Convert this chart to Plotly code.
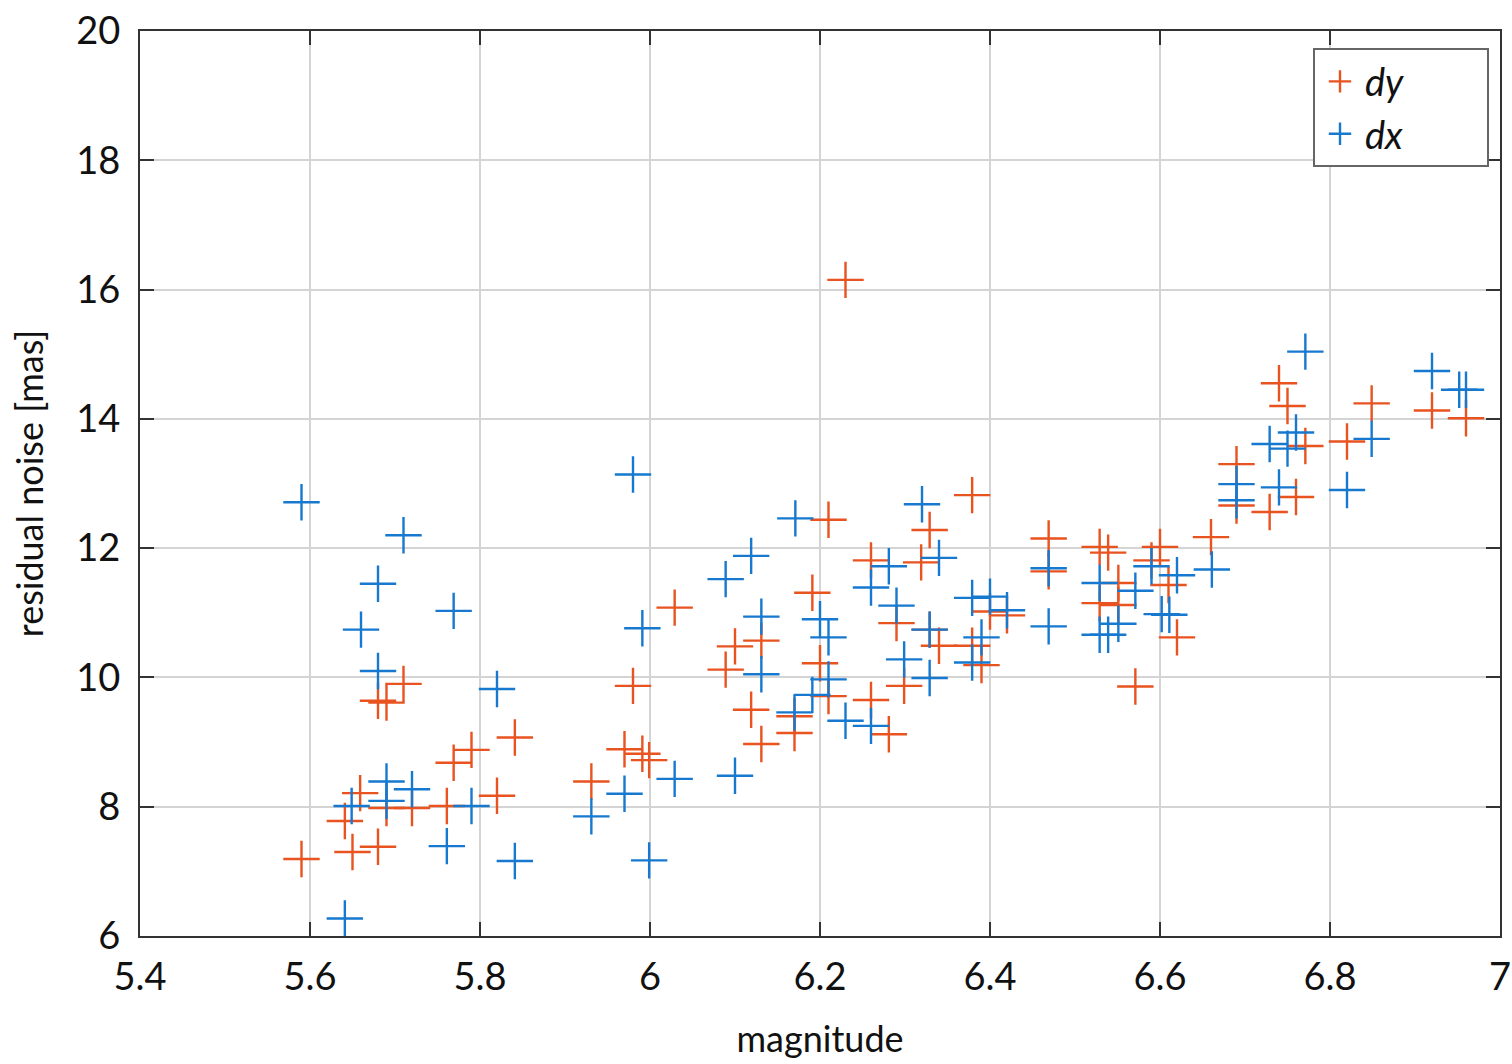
import plotly.graph_objects as go

# dx (blue) series
mag_dx = [5.590, 5.710, 5.680, 5.660, 5.680, 5.769, 5.820, 5.690, 5.720, 5.649, 5.690, 5.790, 5.761, 5.841, 5.641,
          5.980, 6.171, 6.119, 6.089, 5.991, 6.131, 6.200, 6.210, 6.131, 6.210, 6.191, 6.170, 6.230, 6.029, 6.100, 5.970, 5.931, 5.999,
          6.320, 6.340, 6.281, 6.260, 6.290, 6.379, 6.400, 6.420, 6.329, 6.390, 6.299, 6.329, 6.379, 6.469, 6.529, 6.571, 6.469, 6.529, 6.539, 6.551, 6.260,
          6.771, 6.920, 6.952, 6.960, 6.760, 6.729, 6.750, 6.849, 6.690, 6.740, 6.690, 6.820, 6.661, 6.620, 6.602, 6.611, 6.590]
dx_vals = [12.71, 12.20, 11.45, 10.74, 10.10, 11.03, 9.82, 8.39, 8.27, 8.01, 8.09, 8.01, 7.39, 7.16, 6.27,
           13.14, 12.46, 11.88, 11.52, 10.76, 10.94, 10.90, 10.62, 10.05, 9.97, 9.73, 9.46, 9.33, 8.43, 8.48, 8.20, 7.85, 7.17,
           12.68, 11.85, 11.72, 11.39, 11.11, 11.23, 11.25, 11.04, 10.74, 10.62, 10.28, 9.99, 10.23, 10.79, 11.46, 11.34, 11.69, 10.66, 10.66, 10.83, 9.25,
           15.04, 14.74, 14.45, 14.45, 13.79, 13.61, 13.54, 13.69, 12.99, 12.94, 12.74, 12.90, 11.67, 11.58, 10.98, 10.97, 11.72]

# dy (orange) series
mag_dy = [5.710, 5.680, 5.690, 5.841, 5.790, 5.769, 5.659, 5.820, 5.690, 5.720, 5.761, 5.641, 5.650, 5.680, 5.590,
          6.210, 6.029, 6.191, 6.100, 6.131, 6.089, 6.200, 5.980, 6.210, 6.119, 6.170, 6.170, 6.131, 5.970, 5.991, 5.999, 5.931,
          6.230,
          6.379, 6.329, 6.469, 6.529, 6.539, 6.260, 6.319, 6.469, 6.529, 6.551, 6.551, 6.400, 6.420, 6.290, 6.329, 6.340, 6.379, 6.390, 6.299, 6.260, 6.281, 6.571,
          6.740, 6.750, 6.849, 6.920, 6.960, 6.771, 6.820, 6.690, 6.690, 6.760, 6.729, 6.660, 6.600, 6.590, 6.610, 6.620, 6.955]
dy_vals = [9.90, 9.64, 9.61, 9.07, 8.88, 8.68, 8.21, 8.17, 7.98, 7.98, 8.01, 7.78, 7.30, 7.38, 7.19,
           12.44, 11.08, 11.31, 10.48, 10.57, 10.12, 10.22, 9.87, 9.71, 9.50, 9.40, 9.14, 8.97, 8.89, 8.82, 8.72, 8.39,
           16.15,
           12.82, 12.28, 12.15, 12.02, 11.93, 11.81, 11.78, 11.64, 11.15, 11.12, 11.46, 11.02, 10.96, 10.84, 10.74, 10.49, 10.49, 10.19, 9.87, 9.65, 9.12, 9.86,
           14.55, 14.20, 14.24, 14.13, 14.01, 13.58, 13.65, 13.30, 12.66, 12.79, 12.56, 12.17, 12.02, 11.81, 11.43, 10.62, 18.70]

x_ticks = [5.4, 5.6, 5.8, 6.0, 6.2, 6.4, 6.6, 6.8, 7.0]
x_tick_labels = ["5.4", "5.6", "5.8", "6", "6.2", "6.4", "6.6", "6.8", "7"]
y_ticks = [6, 8, 10, 12, 14, 16, 18, 20]

ORANGE = "#E8531F"
BLUE = "#1679CF"
FONT = "Lato"
PAD = "\u00a0" * 8

fig = go.Figure()
fig.add_trace(go.Scatter(
    x=mag_dy, y=dy_vals, mode="markers", name="<i>dy</i>" + PAD,
    marker=dict(symbol="cross-thin-open", size=26, color=ORANGE,
                line=dict(color=ORANGE, width=2.4)),
))
fig.add_trace(go.Scatter(
    x=mag_dx, y=dx_vals, mode="markers", name="<i>dx</i>" + PAD,
    marker=dict(symbol="cross-thin-open", size=26, color=BLUE,
                line=dict(color=BLUE, width=2.4)),
))

axis_common = dict(
    showline=True, linecolor="#333333", linewidth=2, mirror="ticks",
    ticks="inside", ticklen=14, tickwidth=2, tickcolor="#333333",
    showgrid=True, gridcolor="#d4d4d4", gridwidth=1.5,
    zeroline=False, automargin=False,
    tickfont=dict(family=FONT, size=38, color="#111111"),
)

fig.update_layout(
    width=1512, height=1064,
    margin=dict(l=140, r=12, t=31, b=128),
    paper_bgcolor="white", plot_bgcolor="white",
    font=dict(family=FONT, color="#111111"),
    xaxis=dict(range=[5.4, 7.0], tickvals=x_ticks, ticktext=x_tick_labels,
               ticklabelstandoff=6,
               title=dict(text="magnitude", font=dict(family=FONT, size=36), standoff=30),
               **axis_common),
    yaxis=dict(range=[6, 20], tickvals=y_ticks, ticklabelstandoff=10,
               title=dict(text="residual noise [mas]", font=dict(family=FONT, size=36), standoff=22),
               **axis_common),
    legend=dict(x=0.8625, y=0.981, xanchor="left", yanchor="top",
                bgcolor="white", bordercolor="#666666", borderwidth=2,
                font=dict(family=FONT, size=38, color="#111111"),
                itemwidth=40, tracegroupgap=0),
    showlegend=True,
)

fig.write_html("out.html")
